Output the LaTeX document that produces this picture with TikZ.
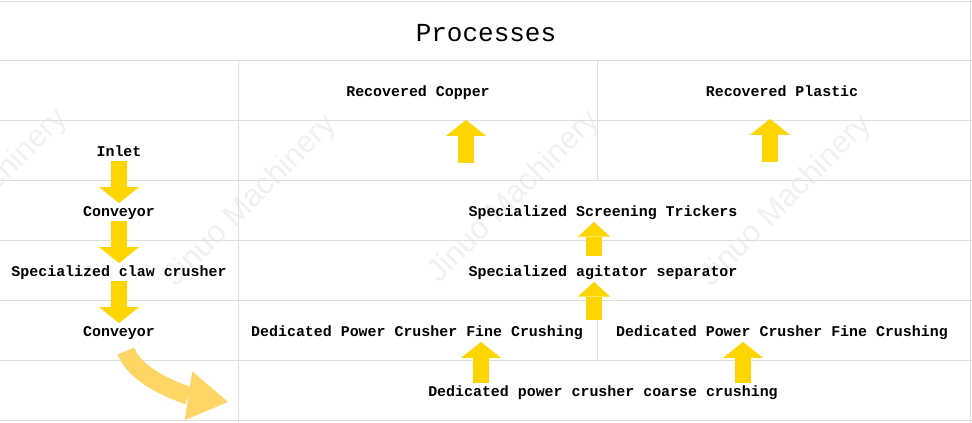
\documentclass[tikz,border=0pt]{standalone}
\usepackage{fontspec}
\setmonofont{Liberation Mono}
\newfontfamily\markfont{Liberation Sans}
\usetikzlibrary{positioning,arrows.meta,calc}
\definecolor{flowyellow}{RGB}{255,213,0}
\definecolor{sweepyellow}{RGB}{255,214,102}
\definecolor{gridgray}{RGB}{222,222,222}
\definecolor{markgray}{RGB}{240,240,240}
\begin{document}
\begin{tikzpicture}[x=0.75pt, y=-0.75pt, node distance=45pt,
        stage/.style={font=\ttfamily\bfseries\fontsize{11.2}{13}\selectfont, inner sep=1.5pt, text height=8pt, text depth=2pt},
        gridline/.style={draw=gridgray, line width=0.75pt},
        flow/.style={draw=flowyellow, line width=12pt, -{Triangle[length=12pt, width=30pt, line width=0pt]}},
        narrowflow/.style={flow, -{Triangle[length=11pt, width=24pt, line width=0pt]}},
        watermark/.style={text=markgray, rotate=45, font=\markfont\fontsize{23.5}{26}\selectfont}]
        \useasboundingbox (0,0) rectangle (972,422);

        % 水印
        \begin{scope}
            \clip (0,0) rectangle (972,422);
            \node[watermark] (mark0) at (-18,195) {Jinuo Machinery};
            \node[watermark] (mark1) at (251,201) {Jinuo Machinery};
            \node[watermark] (mark2) at (514,197) {Jinuo Machinery};
            \node[watermark] (mark3) at (786,201) {Jinuo Machinery};
        \end{scope}

        % 表格线
        \draw[gridline] (0,1) -- (972,1);
        \foreach \y in {60,120,180,240,300,360,420}
            \draw[gridline] (0,\y) -- (972,\y);
        \draw[gridline] (238,60) -- (238,422);
        \draw[gridline] (597,60) -- (597,180);
        \draw[gridline] (597,300) -- (597,360);
        \draw[gridline] (970,0) -- (970,422);

        % 标题
        \node[font=\ttfamily\fontsize{19.5}{22}\selectfont] (title) at (486,33) {Processes};

        % 左列工序
        \node[stage] (inlet) at (119,152) {Inlet};
        \node[stage, below of=inlet] (conv1) {Conveyor};
        \node[stage, below of=conv1] (claw) {Specialized claw crusher};
        \node[stage, below of=claw] (conv2) {Conveyor};

        % 右侧工序
        \node[stage] (copper) at (418,92) {Recovered Copper};
        \node[stage] (plastic) at (782,92) {Recovered Plastic};
        \node[stage] (screen) at (603,212) {Specialized Screening Trickers};
        \node[stage] (agitator) at (603,272) {Specialized agitator separator};
        \node[stage] (fine1) at (417,332) {Dedicated Power Crusher Fine Crushing};
        \node[stage] (fine2) at (782,332) {Dedicated Power Crusher Fine Crushing};
        \node[stage] (coarse) at (603,392) {Dedicated power crusher coarse crushing};

        % 流向
        \draw[flow] (inlet) -- (conv1);
        \draw[flow] (conv1) -- (claw);
        \draw[flow] (claw) -- (conv2);
        \draw[flow] ($(coarse.north)+(-122,0)$) -- ($(fine1.south)+(64,1)$);
        \draw[flow] ($(coarse.north)+(140,0)$) -- ($(fine2.south)+(-39,1)$);
        \draw[narrowflow] ($(agitator.south)+(-9,39)$) -- ($(agitator.south)+(-9,1)$);
        \draw[narrowflow] ($(agitator.north)+(-9,-7)$) -- ($(screen.south)+(-9,1)$);
        \draw[flow] ($(screen.north)+(-137,-40)$) -- ($(copper.south)+(48,19)$);
        \draw[flow] ($(screen.north)+(167,-41)$) -- ($(plastic.south)+(-12,18)$);

        % 转入粗碎
        \coordinate (sweep) at (228,402);
        \draw[draw=sweepyellow, line width=13.5pt, -{Triangle[length=30pt, width=37pt, line width=0pt]}]
            ($(conv2.south)+(7,10)$) .. controls (136,380) and (190,396) .. (sweep);
    \end{tikzpicture}
\end{document}
